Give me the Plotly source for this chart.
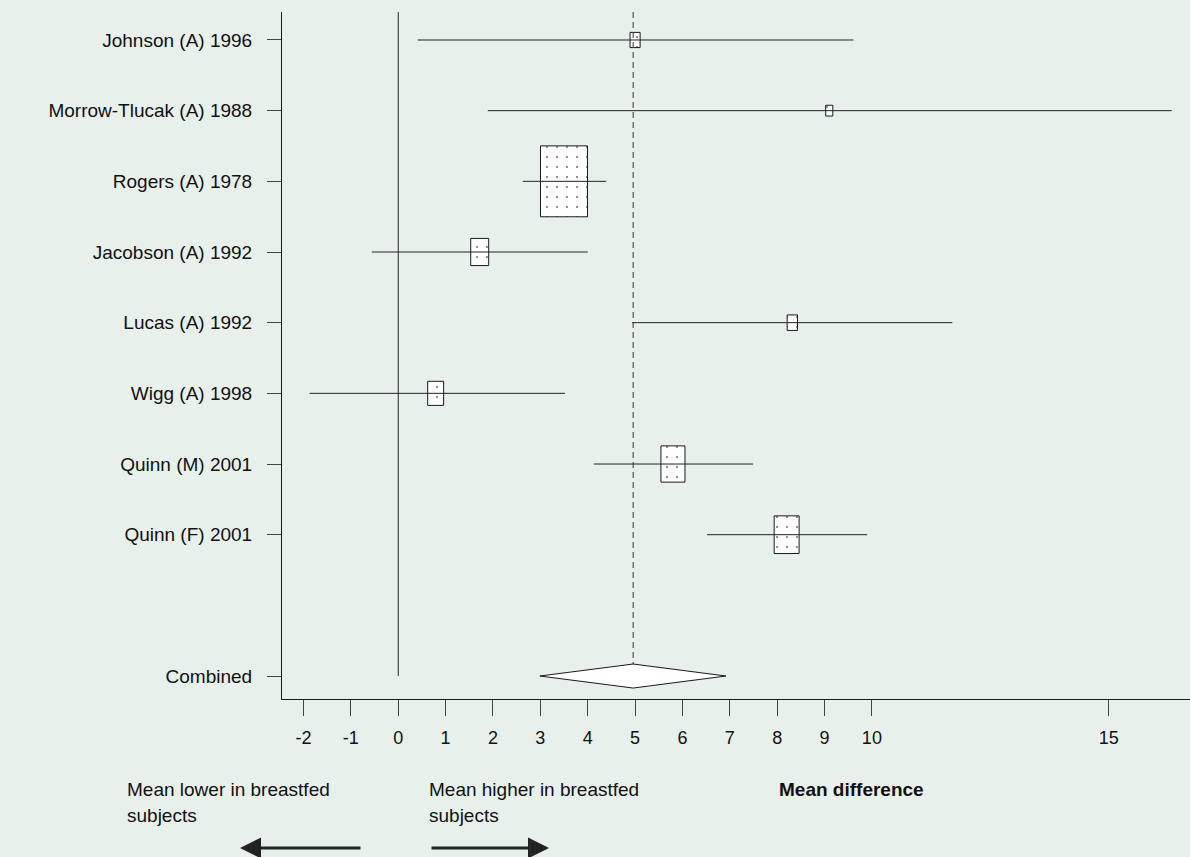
import plotly.graph_objects as go
import numpy as np

# ---- data ----
studies = ["Johnson (A) 1996", "Morrow-Tlucak (A) 1988", "Rogers (A) 1978",
           "Jacobson (A) 1992", "Lucas (A) 1992", "Wigg (A) 1998",
           "Quinn (M) 2001", "Quinn (F) 2001"]
estimate = [5.0, 9.1, 3.5, 1.72, 8.32, 0.79, 5.8, 8.2]
ci_low = [0.41, 1.89, 2.63, -0.56, 4.94, -1.87, 4.13, 6.52]
ci_high = [9.61, 16.33, 4.39, 4.0, 11.7, 3.52, 7.49, 9.9]
weight = [2.4, 1.2, 52.1, 7.6, 2.5, 6.0, 13.6, 14.7]

combined_label = "Combined"
combined_est = 4.96
combined_low = 2.99
combined_high = 6.92

x_ticks = [-2, -1, 0, 1, 2, 3, 4, 5, 6, 7, 8, 9, 10, 15]

# ---- layout constants ----
FONT = "Liberation Sans, Arial, sans-serif"
BG = "#e8f0ec"
INK = "#1a1a1a"
W, H = 1190, 857
ML, MR, MT, MB = 282, 0, 12, 158
plot_h = H - MT - MB
plot_w = W - ML - MR

ypos = list(range(len(studies)))
y_comb = len(studies) + 1

box_sx = 0.1375
box_sy = 0.139
bw = [box_sx * np.sqrt(w) for w in weight]
bh = [box_sy * np.sqrt(w) for w in weight]
base = [e - b / 2 for e, b in zip(estimate, bw)]

fig = go.Figure()

# weight boxes
fig.add_trace(go.Bar(
    y=ypos, x=bw, base=base, width=bh, orientation="h",
    marker=dict(color="white",
                line=dict(color=INK, width=1),
                pattern=dict(shape=".", fgcolor="#777777", bgcolor="white",
                             size=10, solidity=0.035, fillmode="replace")),
    hoverinfo="skip", showlegend=False))

# CI lines
cx, cy = [], []
for lo, hi, y in zip(ci_low, ci_high, ypos):
    cx += [lo, hi, None]
    cy += [y, y, None]
fig.add_trace(go.Scatter(x=cx, y=cy, mode="lines",
                         line=dict(color="#222222", width=1),
                         hoverinfo="skip", showlegend=False))

# zero line
y_top = -0.396
y_bot = 9.325
fig.add_trace(go.Scatter(x=[0, 0], y=[y_top, y_comb], mode="lines",
                         line=dict(color="#222222", width=1),
                         hoverinfo="skip", showlegend=False))

# dashed combined-estimate line
dh = 0.17
fig.add_trace(go.Scatter(x=[combined_est, combined_est], y=[y_top, y_comb - dh],
                         mode="lines",
                         line=dict(color="#333333", width=1, dash="6px,4px"),
                         hoverinfo="skip", showlegend=False))

# diamond
fig.add_trace(go.Scatter(
    x=[combined_low, combined_est, combined_high, combined_est, combined_low],
    y=[y_comb, y_comb - dh, y_comb, y_comb + dh, y_comb],
    mode="lines", fill="toself", fillcolor="white",
    line=dict(color=INK, width=1),
    hoverinfo="skip", showlegend=False))


def px_x(px):
    return (px - ML) / plot_w


def px_y(py):
    return (H - MB - py) / plot_h


txt_font = dict(family=FONT, size=19, color="#111111")
annotations = [
    dict(text="Mean lower in breastfed", x=px_x(125), y=px_y(789)),
    dict(text="subjects", x=px_x(125), y=px_y(815)),
    dict(text="Mean higher in breastfed", x=px_x(427), y=px_y(789)),
    dict(text="subjects", x=px_x(427), y=px_y(815)),
    dict(text="<b>Mean difference</b>", x=px_x(777), y=px_y(789)),
]
for a in annotations:
    a.update(xref="paper", yref="paper", xanchor="left", yanchor="middle",
             showarrow=False, font=txt_font, align="left")

arrows = [
    dict(x=px_x(240), y=px_y(848), ax=122, ay=0),
    dict(x=px_x(549), y=px_y(848), ax=-119, ay=0),
]
for a in arrows:
    a.update(xref="paper", yref="paper", text="", showarrow=True,
             arrowhead=2, arrowsize=1.4, arrowwidth=3, arrowcolor="#222222")

fig.update_layout(
    width=W, height=H,
    margin=dict(l=ML, r=MR, t=MT, b=MB, autoexpand=False),
    paper_bgcolor=BG, plot_bgcolor=BG,
    font=dict(family=FONT, size=18, color="#111111"),
    showlegend=False,
    annotations=annotations + arrows,
    xaxis=dict(range=[-2.454, 16.716], tickvals=x_ticks,
               ticktext=[str(t) for t in x_ticks],
               showgrid=False, zeroline=False, showline=True,
               linecolor=INK, linewidth=1, ticks="outside", ticklen=16,
               tickcolor="#444444", tickwidth=1, ticklabelstandoff=6,
               tickfont=dict(family=FONT, size=18, color="#111111"),
               automargin=False, fixedrange=True),
    yaxis=dict(range=[y_bot, y_top], tickvals=ypos + [y_comb],
               ticktext=studies + [combined_label],
               showgrid=False, zeroline=False, showline=True,
               linecolor=INK, linewidth=1, ticks="outside", ticklen=14,
               tickcolor="#444444", tickwidth=1, ticklabelstandoff=11,
               tickfont=dict(family=FONT, size=19, color="#111111"),
               automargin=False, fixedrange=True),
)

fig.write_html("out.html", config={"displayModeBar": False},
               post_script="document.body.style.margin='0';"
                           "document.body.style.overflow='hidden';")
